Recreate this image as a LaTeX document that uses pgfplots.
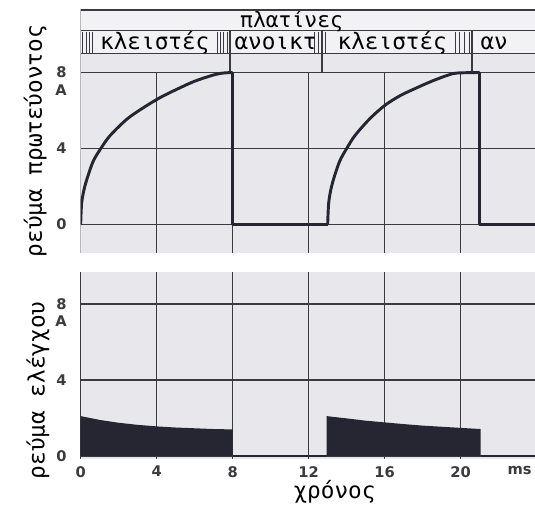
\documentclass[border=0pt]{standalone}
\usepackage{fontspec}
\setmainfont{DejaVu Sans}
\newfontfamily\grk{DejaVu Sans Mono}
\usepackage{pgfplots}
\pgfplotsset{compat=1.18}

\definecolor{paper}{RGB}{232,232,236}
\definecolor{paperlight}{RGB}{242,242,245}
\definecolor{ink}{RGB}{38,38,50}
\definecolor{gridc}{RGB}{58,58,64}

\pgfplotsset{
  every axis/.append style={
    x=14.25pt, y=14.25pt,
    xmin=0, xmax=23.9,
    anchor=south west,
    axis line style={draw=none},
    major tick length=0pt,
    grid style={gridc, line width=1.1pt},
    tick label style={font=\bfseries\fontsize{11}{12}\selectfont, text=gridc},
    /pgf/number format/assume math mode=true,
    axis background/.style={fill=paper},
    extra tick style={grid=none},
  },
}

\begin{document}
\begin{tikzpicture}
\useasboundingbox (0,0) rectangle (401.25pt,383.25pt);

% primary current
\begin{axis}[
    at={(60.5pt,193.5pt)},
    ymin=-1.5, ymax=11.3,
    xtick=\empty,
    ytick={0,4,8},
    ymajorgrids,
    extra y ticks={7.05}, extra y tick labels={A},
    yticklabel style={xshift=-7pt},
    ylabel={\grk ρεύμα πρωτεύοντος},
    ylabel style={at={(rel axis cs:-0.1,0.46)}, anchor=center,
      font=\fontsize{17}{18}\selectfont},
  ]
  % header strip
  \fill[paperlight] (axis cs:0,9.0) rectangle (axis cs:23.9,11.3);
  \draw[gridc, line width=0.6pt] (axis cs:0,10.2) -- (axis cs:23.9,10.2);
  \draw[gridc, line width=0.8pt] (axis cs:0,9.0) -- (axis cs:23.9,9.0);
  \pgfplotsinvokeforeach{7.85,12.7,20.6}{
    \draw[gridc, line width=1.1pt] (axis cs:#1,8) -- (axis cs:#1,10.2);
  }
  \pgfplotsinvokeforeach{0.12,0.3,0.48,0.64, 7.18,7.36,7.54,7.72,
                         12.3,12.5,12.7,12.9, 19.7,19.95,20.2,20.45}{
    \draw[gridc, line width=0.7pt] (axis cs:#1,9.05) -- (axis cs:#1,10.15);
  }
  \node[font=\grk\fontsize{16}{16}\selectfont] at (axis cs:11.1,10.72) {πλατίνες};
  \node[font=\grk\fontsize{17}{17}\selectfont] at (axis cs:3.9,9.55) {κλειστές};
  \node[font=\grk\fontsize{17}{17}\selectfont, anchor=west] at (axis cs:7.85,9.55) {ανοικτ};
  \node[font=\grk\fontsize{17}{17}\selectfont] at (axis cs:16.4,9.55) {κλειστές};
  \node[font=\grk\fontsize{17}{17}\selectfont, anchor=west] at (axis cs:20.8,9.55) {αν};

  % grid and frame
  \pgfplotsinvokeforeach{4,8,12,16,20}{
    \draw[gridc, line width=1.1pt] (axis cs:#1,-1.5) -- (axis cs:#1,8);
  }
  \draw[gridc, line width=1.1pt] (axis cs:0,-1.5) -- (axis cs:0,11.3) -- (axis cs:23.9,11.3);

  % rising parts (points closed)
  \addplot[ink, line width=2.2pt, smooth, tension=0.5] coordinates {
    (0,0) (0.05,1.1) (0.18,1.85) (0.38,2.55) (0.67,3.35) (1.06,4.0)
    (1.55,4.68) (2.44,5.55) (3.32,6.16) (4.2,6.69) (5.09,7.13)
    (5.97,7.53) (6.86,7.83) (7.4,7.96) (8,8.0)
  };
  \addplot[ink, line width=2.2pt, smooth, tension=0.5] coordinates {
    (13,0) (13.05,1.1) (13.17,1.85) (13.36,2.55) (13.64,3.35) (14.0,4.0)
    (14.45,4.7) (15.25,5.6) (16.05,6.3) (16.85,6.8) (17.7,7.2)
    (18.5,7.55) (19.3,7.85) (19.8,7.97) (21,8.0)
  };
  % open parts
  \addplot[ink, line width=2.2pt, line join=round] coordinates {
    (8,8) (8,0) (13,0)
  };
  \addplot[ink, line width=2.2pt, line join=round] coordinates {
    (21,8) (21,0) (23.9,0)
  };
\end{axis}

% control current
\begin{axis}[
    at={(60.5pt,39.1pt)},
    ymin=-0.15, ymax=9.7,
    xtick={0,4,8,12,16,20},
    ytick={0,4,8},
    xmajorgrids, ymajorgrids,
    extra x ticks={23.1}, extra x tick labels={ms},
    extra y ticks={7.1}, extra y tick labels={A},
    yticklabel style={xshift=-7pt},
    xticklabel style={yshift=-2pt},
    ylabel={\grk ρεύμα ελέγχου},
    ylabel style={at={(rel axis cs:-0.094,0.366)}, anchor=center,
      font=\fontsize{17}{18}\selectfont},
    xlabel={\grk χρόνος},
    xlabel style={at={(rel axis cs:0.559,-0.177)}, anchor=center,
      font=\fontsize{17}{18}\selectfont},
  ]
  \addplot[draw=none, fill=ink] coordinates {
    (0,0) (0,2.1) (1,1.9) (2,1.75) (3,1.64) (4,1.56) (5,1.5)
    (6,1.46) (7,1.42) (8,1.4) (8,0)
  } -- cycle;
  \addplot[draw=none, fill=ink] coordinates {
    (12.95,0) (12.95,2.1) (14,1.98) (15,1.86) (16,1.77) (17,1.68)
    (18,1.6) (19,1.54) (20,1.48) (21.05,1.42) (21.05,0)
  } -- cycle;
  \addplot[ink, line width=1.8pt] coordinates {
    (8,0) (12.95,0)
  };
  \addplot[ink, line width=1.8pt] coordinates {
    (21.05,0) (23.9,0)
  };
\end{axis}
\end{tikzpicture}
\end{document}
